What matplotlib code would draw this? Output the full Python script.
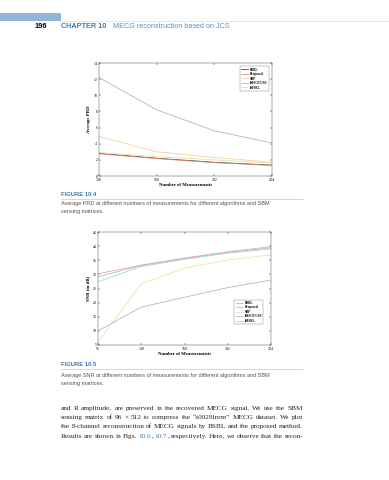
import matplotlib.pyplot as plt
from matplotlib.patches import Rectangle
from matplotlib.lines import Line2D

# ---- data ----
algos = ["BSBL", "Proposed", "SBP", "tMFOCUSS", "tMSBL"]

prd_m = [128, 160, 192, 224]
prd_bsbl = [2.8, 2.2, 1.7, 1.35]
prd_prop = [2.75, 2.15, 1.65, 1.3]
prd_sbp = [4.9, 3.0, 2.3, 1.7]
prd_tmfocuss = [12.2, 8.2, 5.6, 4.1]
prd_tmsbl = [2.9, 2.4, 2.0, 1.6]

snr_m = [96, 128, 160, 192, 224]
snr_bsbl = [29.2, 33.1, 35.6, 37.8, 39.4]
snr_prop = [30.2, 33.3, 35.8, 38.0, 39.8]
snr_sbp = [6.0, 26.6, 32.2, 35.1, 36.9]
snr_tmfocuss = [10.0, 18.4, 21.9, 25.3, 28.0]
snr_tmsbl = [27.4, 32.8, 35.3, 37.5, 39.0]

colors1 = ["#3a3a3a", "#e08a80", "#f0cf98", "#b9a4d2", "#e4e09a"]
colors2 = ["#a6b8d6", "#e3a3a3", "#eee0a2", "#c3a5c9", "#a6d3cc"]

W, H = 389, 480
BLUE = "#3d7ab5"
SERIF = "Liberation Serif"
SANS = "Liberation Sans"

fig = plt.figure(figsize=(W / 100, H / 100), dpi=100)
r = fig.canvas.get_renderer()


def fx(x):
    return x / W


def fy(y):
    return 1 - y / H


def justify(lines, x0, x1, y0, dy, size):
    # each line is a list of words, each word a list of (text, color)
    for i, words in enumerate(lines):
        y = fy(y0 + i * dy)
        arts, widths = [], []
        for w in words:
            parts = []
            wsum = 0
            for txt, c in w:
                t = fig.text(0, y, txt, fontsize=size, family=SERIF, color=c, va="center")
                bw = t.get_window_extent(r).width
                parts.append((t, wsum))
                wsum += bw
            arts.append(parts)
            widths.append(wsum)
        gap = ((x1 - x0) - sum(widths)) / max(len(words) - 1, 1)
        x = x0
        for parts, wd in zip(arts, widths):
            for t, off in parts:
                t.set_x(fx(x + off))
            x += wd + gap


def words(s, color="#222222"):
    return [[(w, color)] for w in s.split()]


# ---- running head ----
fig.patches.append(Rectangle((0, fy(21)), fx(61), 8 / H, transform=fig.transFigure,
                             color="#93b3d8", lw=0))
fig.add_artist(Line2D([fx(61), 1], [fy(21), fy(21)], color="#d3e0ec", lw=0.5))
fig.text(fx(35), fy(26), "196", fontsize=5.4, weight="bold", family=SANS, va="center")
fig.text(fx(61), fy(26), "CHAPTER 10", fontsize=5.2, weight="bold", family=SANS,
         color=BLUE, va="center")
fig.text(fx(113), fy(26), "MECG reconstruction based on JCS", fontsize=5.2,
         family=SANS, color="#5b8fc2", va="center")


def style_axes(ax):
    ax.tick_params(direction="in", top=True, right=True, length=1.6, width=0.3,
                   labelsize=2.8, pad=1.2)
    for lab in ax.get_xticklabels() + ax.get_yticklabels():
        lab.set_family(SERIF)
    for s in ax.spines.values():
        s.set_linewidth(0.35)
        s.set_color("#555555")


def legend(ax, cols, **kw):
    lg = ax.legend(fontsize=2.4, prop={"family": SERIF, "size": 2.4, "weight": "bold"},
                   handlelength=2.2, handletextpad=0.5, labelspacing=0.15,
                   borderpad=0.35, fancybox=False, edgecolor="#555555", **kw)
    lg.get_frame().set_linewidth(0.3)


# ---- figure 10.4 ----
ax1 = fig.add_axes([fx(99), fy(176), 173 / W, 113 / H])
series1 = [prd_bsbl, prd_prop, prd_sbp, prd_tmfocuss, prd_tmsbl]
for name, vals, c in zip(algos, series1, colors1):
    ax1.plot(prd_m, vals, color=c, lw=0.55, label=name)
ax1.set_xlim(128, 224)
ax1.set_ylim(0, 14)
ax1.set_xticks(prd_m)
ax1.set_yticks(range(0, 15, 2))
style_axes(ax1)
ax1.set_xlabel("Number of Measurements", fontsize=3.4, family=SERIF, weight="bold", labelpad=1)
ax1.set_ylabel("Average PRD", fontsize=3.4, family=SERIF, weight="bold", labelpad=2)
legend(ax1, colors1, loc="upper right", bbox_to_anchor=(0.99, 0.985))

fig.text(fx(61), fy(194), "FIGURE 10.4", fontsize=4.2, weight="bold", family=SANS,
         color=BLUE, va="center")
fig.add_artist(Line2D([fx(61), fx(303)], [fy(199), fy(199)], color="#b3cbe0", lw=0.5))
fig.text(fx(61), fy(203.5), "Average PRD at different numbers of measurements for different algorithms and SBM",
         fontsize=4.0, family=SANS, color="#555555", va="center")
fig.text(fx(61), fy(212), "sensing matrices.", fontsize=4.0, family=SANS,
         color="#555555", va="center")

# ---- figure 10.5 ----
ax2 = fig.add_axes([fx(98), fy(345), 173 / W, 113 / H])
series2 = [snr_bsbl, snr_prop, snr_sbp, snr_tmfocuss, snr_tmsbl]
for name, vals, c in zip(algos, series2, colors2):
    ax2.plot(snr_m, vals, color=c, lw=0.55, label=name)
ax2.set_xlim(96, 224)
ax2.set_ylim(5, 45)
ax2.set_xticks(snr_m)
ax2.set_yticks(range(5, 46, 5))
style_axes(ax2)
ax2.set_xlabel("Number of Measurements", fontsize=3.4, family=SERIF, weight="bold", labelpad=1)
ax2.set_ylabel("SNR (in dB)", fontsize=3.4, family=SERIF, weight="bold", labelpad=2)
legend(ax2, colors2, loc="lower right", bbox_to_anchor=(0.965, 0.17))

fig.text(fx(61), fy(364), "FIGURE 10.5", fontsize=4.2, weight="bold", family=SANS,
         color=BLUE, va="center")
fig.add_artist(Line2D([fx(61), fx(303)], [fy(369), fy(369)], color="#b3cbe0", lw=0.5))
fig.text(fx(61), fy(375.5), "Average SNR at different numbers of measurements for different algorithms and SBM",
         fontsize=4.0, family=SANS, color="#555555", va="center")
fig.text(fx(61), fy(383.5), "sensing matrices.", fontsize=4.0, family=SANS,
         color="#555555", va="center")

# ---- body text ----
body = [
    words("and R amplitude, are preserved in the recovered MECG signal. We use the SBM"),
    words("sensing matrix of 96 \u00d7 512 to compress the \u201cs0029lrem\u201d MECG dataset. We plot"),
    words("the 8-channel reconstruction of MECG signals by BSBL and the proposed method."),
    words("Results are shown in Figs.")
    + [[("10.6", BLUE), (",", "#222222")], [("10.7", BLUE), (",", "#222222")]]
    + words("respectively. Here, we observe that the recon-"),
]
justify(body, 61, 303, 408.3, 9.25, 5.2)

fig.savefig("out.png", dpi=100)
